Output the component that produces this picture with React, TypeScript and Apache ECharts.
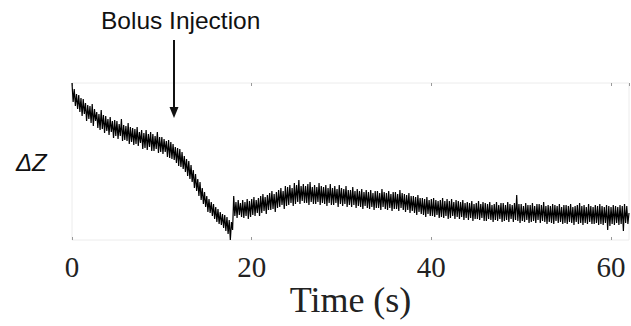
import React, { useEffect, useRef } from "react";
import * as echarts from "echarts";

// Sampling interval of the trace (seconds)
const DT = 0.125;
// ΔZ trace (arbitrary units), 8 samples per second
const deltaZ: number[] = [
  157, 138, 151, 134, 146, 131, 145, 128,
  142, 124, 141, 126, 137, 119, 135, 121,
  134, 117, 136, 114, 131, 119, 128, 112,
  126, 110, 130, 111, 125, 107, 124, 109,
  121, 105, 123, 108, 119, 102, 120, 104,
  119, 101, 116, 104, 121, 99, 115, 100,
  114, 99, 117, 96, 113, 98, 112, 95,
  111, 96, 113, 94, 108, 97, 110, 91,
  107, 92, 110, 90, 106, 93, 108, 89,
  106, 89, 104, 91, 108, 87, 103, 88,
  103, 86, 101, 88, 99, 83, 100, 82,
  98, 81, 96, 80, 93, 77, 92, 74,
  91, 73, 88, 71, 84, 68, 81, 64,
  79, 61, 75, 58, 70, 52, 66, 49,
  61, 44, 58, 40, 52, 36, 48, 33,
  44, 28, 41, 27, 38, 24, 36, 21,
  33, 18, 31, 16, 28, 15, 26, 12,
  25, 9, 23, 6, 20, 0, 18, 10,
  44, 24, 38, 22, 40, 25, 37, 23,
  40, 22, 38, 24, 41, 21, 39, 23,
  41, 25, 43, 24, 40, 27, 42, 24,
  44, 27, 46, 29, 43, 26, 45, 30,
  47, 30, 49, 31, 46, 28, 48, 32,
  50, 33, 52, 35, 49, 31, 54, 34,
  53, 35, 55, 37, 52, 34, 57, 36,
  55, 38, 60, 36, 54, 39, 56, 37,
  54, 37, 56, 35, 58, 38, 53, 36,
  55, 36, 53, 38, 57, 35, 54, 37,
  53, 36, 55, 34, 52, 37, 56, 35,
  52, 35, 54, 37, 51, 33, 55, 36,
  52, 34, 51, 36, 54, 33, 50, 35,
  50, 33, 53, 35, 49, 32, 51, 34,
  49, 33, 51, 31, 48, 34, 50, 32,
  48, 31, 50, 33, 47, 30, 49, 32,
  49, 32, 47, 30, 51, 33, 48, 31,
  47, 30, 49, 32, 46, 29, 48, 31,
  48, 31, 46, 29, 50, 32, 47, 30,
  46, 28, 45, 30, 47, 27, 44, 29,
  44, 27, 43, 25, 45, 28, 42, 26,
  42, 25, 41, 23, 43, 26, 40, 24,
  41, 24, 42, 23, 40, 25, 39, 22,
  40, 23, 42, 22, 39, 24, 41, 21,
  39, 22, 41, 24, 38, 21, 40, 23,
  39, 21, 38, 23, 40, 20, 37, 22,
  38, 20, 37, 22, 39, 19, 36, 21,
  37, 21, 39, 20, 36, 22, 38, 19,
  37, 19, 36, 21, 38, 20, 35, 18,
  36, 20, 38, 19, 35, 21, 37, 18,
  37, 19, 35, 20, 38, 18, 36, 21,
  35, 18, 37, 20, 45, 19, 36, 17,
  36, 19, 34, 18, 37, 20, 35, 17,
  35, 18, 37, 19, 34, 17, 36, 20,
  36, 17, 35, 19, 38, 18, 34, 16,
  35, 18, 34, 17, 36, 16, 35, 19,
  34, 17, 36, 18, 33, 16, 35, 17,
  35, 16, 34, 18, 36, 17, 33, 15,
  34, 18, 35, 16, 37, 17, 34, 15,
  35, 17, 33, 16, 36, 18, 34, 16,
  33, 16, 35, 17, 34, 15, 36, 16,
  34, 15, 33, 17, 35, 10, 34, 14,
  33, 16, 35, 15, 34, 17, 33, 15,
  35, 16, 34, 9, 36, 17, 34, 16,
  27,
];

const xTicks = [0, 20, 40, 60];
const xLabel = "Time (s)";
const yLabel = "ΔZ";
const annotation = "Bolus Injection";

export default function App() {
  const ref = useRef<HTMLDivElement>(null);
  useEffect(() => {
    if (!ref.current) return;
    const chart = echarts.init(ref.current, null, { renderer: "svg" });
    const data = deltaZ.map((v, i) => [i * DT, v]);
    const tickCfg = {
      show: true,
      inside: true,
      length: 3,
      lineStyle: { color: "#999", width: 1 },
    };
    chart.setOption({
      animation: false,
      backgroundColor: "#ffffff",
      grid: {
        left: 72,
        right: 2,
        top: 83,
        bottom: 86,
        show: true,
        borderColor: "#ececec",
        borderWidth: 1,
        containLabel: false,
        outerBoundsMode: "none",
      },
      xAxis: [
        {
          type: "value",
          min: 0,
          max: 62,
          interval: 20,
          position: "bottom",
          axisLine: { show: false },
          axisTick: tickCfg,
          splitLine: { show: false },
          axisLabel: {
            show: true,
            fontFamily: "Liberation Serif",
            fontSize: 29,
            color: "#222",
            margin: 12,
            showMaxLabel: false,
            formatter: (v: number) => (xTicks.includes(v) ? String(v) : ""),
          },
          name: xLabel,
          nameLocation: "middle",
          nameGap: 42,
          nameTextStyle: {
            fontFamily: "Liberation Serif",
            fontSize: 36,
            color: "#222",
          },
        },
        {
          type: "value",
          min: 0,
          max: 62,
          interval: 20,
          position: "top",
          axisLine: { show: false },
          axisTick: tickCfg,
          splitLine: { show: false },
          axisLabel: { show: false },
        },
      ],
      yAxis: {
        type: "value",
        min: 0,
        max: 157,
        show: false,
      },
      series: [
        {
          type: "line",
          data,
          xAxisIndex: 0,
          showSymbol: false,
          symbol: "none",
          lineStyle: { color: "#000", width: 1.2 },
        },
      ],
      graphic: [
        {
          type: "text",
          left: 101,
          top: 8,
          style: {
            text: annotation,
            fontFamily: "Liberation Sans",
            fontSize: 24.5,
            fill: "#111",
          },
        },
        {
          type: "line",
          shape: { x1: 174, y1: 40, x2: 174, y2: 111 },
          style: { stroke: "#111", lineWidth: 2 },
        },
        {
          type: "polygon",
          shape: { points: [[169.5, 107], [178.5, 107], [174, 118]] },
          style: { fill: "#111" },
        },
        {
          type: "text",
          left: 16,
          top: 150,
          style: {
            text: yLabel,
            fontFamily: "Liberation Sans",
            fontStyle: "italic",
            fontSize: 24,
            fill: "#111",
          },
        },
      ],
    });
    return () => chart.dispose();
  }, []);
  return (
    <div
      ref={ref}
      style={{ position: "fixed", left: 0, top: 0, width: 631, height: 326 }}
    />
  );
}
